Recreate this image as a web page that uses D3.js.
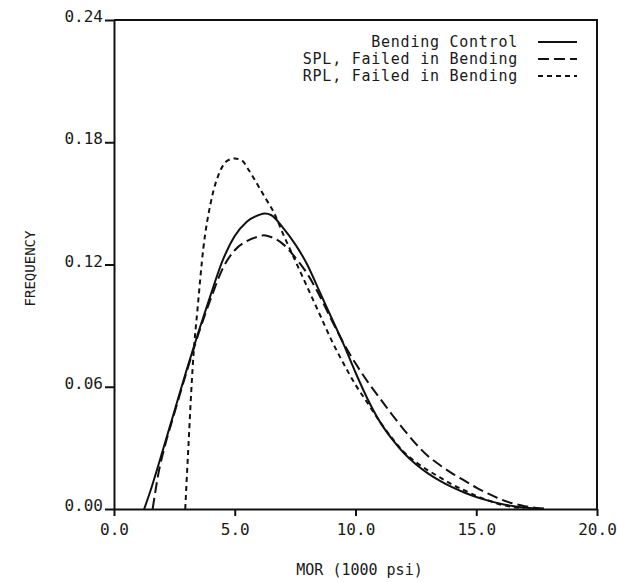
<!DOCTYPE html>
<html>
<head>
<meta charset="utf-8">
<script src="https://cdn.jsdelivr.net/npm/d3@7"></script>
<style>
    body { margin: 0; background: #fff; }
    svg text { font-family: "DejaVu Sans Mono", "Liberation Mono", monospace; fill: #1a1a1a; }
</style>
</head>
<body>
<svg id="chart" width="617" height="582"></svg>
<script>
// values: MOR (1000 psi) and frequency
const controlMor = [1.25, 1.5, 2.0, 2.5, 3.0, 3.5, 4.0, 4.5, 5.0, 5.5, 6.0, 6.25, 6.5, 7.0, 7.5, 8.0, 8.5, 9.0, 9.5, 10.0, 10.5, 11.0, 11.5, 12.0, 12.5, 13.0, 13.5, 14.0, 14.5, 15.0, 15.5, 16.0, 16.5, 17.0, 17.5];
const controlFreq = [0, 0.0086, 0.028, 0.048, 0.068, 0.087, 0.105, 0.122, 0.134, 0.141, 0.1443, 0.145, 0.1443, 0.138, 0.130, 0.120, 0.107, 0.094, 0.081, 0.067, 0.054, 0.043, 0.0345, 0.0275, 0.022, 0.0175, 0.0138, 0.0107, 0.0081, 0.0059, 0.0041, 0.0026, 0.0015, 0.0007, 0.0002];

const splMor = [1.6, 1.9, 2.0, 2.5, 3.0, 3.5, 4.0, 4.5, 5.0, 5.5, 6.0, 6.2, 6.5, 7.0, 7.5, 8.0, 8.5, 9.0, 9.5, 10.0, 10.5, 11.0, 11.5, 12.0, 12.5, 13.0, 13.5, 14.0, 14.5, 15.0, 15.5, 16.0, 16.5, 17.0, 17.5, 18.0];
const splFreq = [0, 0.021, 0.026, 0.047, 0.067, 0.086, 0.103, 0.118, 0.127, 0.1315, 0.1338, 0.1343, 0.1335, 0.130, 0.1235, 0.1155, 0.105, 0.093, 0.0815, 0.0715, 0.0625, 0.0545, 0.0465, 0.039, 0.032, 0.026, 0.0215, 0.0175, 0.014, 0.0105, 0.0075, 0.0048, 0.0028, 0.0014, 0.0005, 0.0001];

const rplMor = [2.95, 3.0, 3.1, 3.2, 3.3, 3.45, 3.7, 4.0, 4.4, 4.7, 5.0, 5.3, 5.6, 6.0, 6.3, 6.6, 7.0, 7.5, 8.0, 8.5, 9.0, 9.5, 10.0, 10.5, 11.0, 11.5, 12.0, 12.5, 13.0, 13.5, 14.0, 14.5, 15.0, 15.5, 16.0, 16.5, 17.0];
const rplFreq = [0, 0.012, 0.035, 0.058, 0.077, 0.097, 0.128, 0.150, 0.166, 0.171, 0.172, 0.171, 0.166, 0.158, 0.152, 0.146, 0.135, 0.122, 0.109, 0.096, 0.083, 0.0715, 0.061, 0.052, 0.043, 0.035, 0.028, 0.023, 0.019, 0.0155, 0.012, 0.0092, 0.0065, 0.0042, 0.0022, 0.001, 0.0003];

const xTicks = [0, 5, 10, 15, 20];
const yTicks = [0, 0.06, 0.12, 0.18, 0.24];

const seriesNames = ['Bending Control', 'SPL, Failed in Bending', 'RPL, Failed in Bending'];
const seriesDash = [null, '11,5', '5,4'];

const series = [
    controlMor.map((m, i) => [m, controlFreq[i]]),
    splMor.map((m, i) => [m, splFreq[i]]),
    rplMor.map((m, i) => [m, rplFreq[i]]),
];

const plot = { left: 114, right: 597, top: 20, bottom: 509 };

const svg = d3.select('#chart');
const x = d3.scaleLinear().domain([0, 20]).range([plot.left, plot.right]);
const y = d3.scaleLinear().domain([0, 0.24]).range([plot.bottom, plot.top]);

// frame (top and right)
svg.append('path')
    .attr('d', `M${plot.left},${plot.top}H${plot.right}V${plot.bottom}`)
    .attr('fill', 'none')
    .attr('stroke', '#111')
    .attr('stroke-width', 2);

// axes
const xAxis = svg.append('g')
    .attr('transform', `translate(0,${plot.bottom})`)
    .call(d3.axisBottom(x).tickValues(xTicks).tickFormat(d3.format('.1f')).tickSize(7).tickSizeOuter(0).tickPadding(8));
const yAxis = svg.append('g')
    .attr('transform', `translate(${plot.left},0)`)
    .call(d3.axisLeft(y).tickValues(yTicks).tickFormat(d3.format('.2f')).tickSize(9).tickSizeOuter(0).tickPadding(2));

[xAxis, yAxis].forEach(g => {
    g.select('.domain').attr('stroke', '#111').attr('stroke-width', 2);
    g.selectAll('.tick line').attr('stroke', '#111').attr('stroke-width', 2);
    g.selectAll('.tick text').style('font-size', '16px').attr('fill', '#1a1a1a');
});
yAxis.selectAll('.tick text').attr('dy', '0.1em');

// curves
const line = d3.line()
    .x(d => x(d[0]))
    .y(d => y(d[1]))
    .curve(d3.curveMonotoneX);

svg.append('g').selectAll('path')
    .data(series)
    .join('path')
    .attr('d', line)
    .attr('fill', 'none')
    .attr('stroke', '#111')
    .attr('stroke-width', 2)
    .attr('stroke-dasharray', (d, i) => seriesDash[i]);

// legend
const legend = svg.append('g');
seriesNames.forEach((name, i) => {
    const ly = 42 + i * 17;
    legend.append('text')
        .attr('x', 518)
        .attr('y', ly)
        .attr('dy', '0.35em')
        .attr('text-anchor', 'end')
        .style('font-size', '15px')
        .style('letter-spacing', '0.75px')
        .text(name);
    legend.append('line')
        .attr('x1', 538).attr('x2', 577)
        .attr('y1', ly).attr('y2', ly)
        .attr('stroke', '#111')
        .attr('stroke-width', 2)
        .attr('stroke-dasharray', seriesDash[i]);
});

// axis titles
svg.append('text')
    .attr('x', (plot.left + plot.right) / 2 + 4)
    .attr('y', 570)
    .attr('dy', '0.35em')
    .attr('text-anchor', 'middle')
    .style('font-size', '15px')
    .text('MOR (1000 psi)');

svg.append('text')
    .attr('transform', `translate(30,${(plot.top + plot.bottom) / 2 + 4}) rotate(-90)`)
    .attr('dy', '0.35em')
    .attr('text-anchor', 'middle')
    .style('font-size', '14px')
    .text('FREQUENCY');
</script>
</body>
</html>
